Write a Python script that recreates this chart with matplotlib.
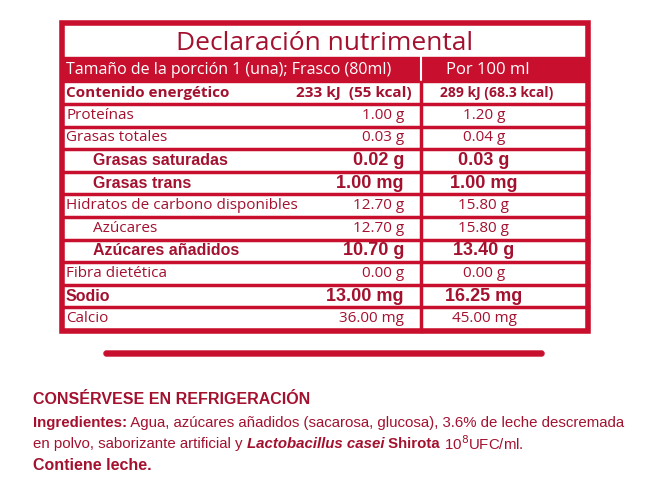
import matplotlib.pyplot as plt
from matplotlib.patches import Rectangle, FancyBboxPatch

RED = '#c8102e'
DARK = '#a3112f'

# Rows of the table: label, per portion, per 100 ml, indent, bold
labels = ['Proteínas', 'Grasas totales', 'Grasas saturadas', 'Grasas trans',
          'Hidratos de carbono disponibles', 'Azúcares', 'Azúcares añadidos',
          'Fibra dietética', 'Sodio', 'Calcio']
portion = ['1.00 g', '0.03 g', '0.02 g', '1.00 mg', '12.70 g', '12.70 g',
           '10.70 g', '0.00 g', '13.00 mg', '36.00 mg']
per100 = ['1.20 g', '0.04 g', '0.03 g', '1.00 mg', '15.80 g', '15.80 g',
          '13.40 g', '0.00 g', '16.25 mg', '45.00 mg']
indent = [0, 0, 1, 1, 0, 1, 1, 0, 0, 0]
bold = [0, 0, 1, 1, 0, 0, 1, 0, 1, 0]

fig = plt.figure(figsize=(6.5, 4.97), dpi=100)
ax = fig.add_axes([0, 0, 1, 1])
ax.set_xlim(0, 650)
ax.set_ylim(497, 0)
ax.axis('off')

x0, x1, xmid = 62, 588, 421
top, bot = 23, 331

# outer frame
ax.add_patch(Rectangle((x0, top), x1 - x0, bot - top, fill=False, ec=RED, lw=4))
ax.text((x0 + x1) / 2, 43, 'Declaración nutrimental', ha='center', va='center',
        fontsize=19, color=DARK, family='Open Sans')

# header row (red band)
ax.add_patch(Rectangle((x0, 57), x1 - x0, 25, color=RED))
ax.plot([xmid, xmid], [57, 82], color='white', lw=1.5)
ax.text(66, 70, 'Tamaño de la porción 1 (una); Frasco (80ml)', va='center',
        fontsize=11.5, color='white', family='Open Sans')
ax.text(488, 70, 'Por 100 ml', ha='center', va='center', fontsize=12,
        color='white', family='Open Sans')

# energy row
ax.text(66, 93, 'Contenido energético', va='center', fontsize=11,
        color=DARK, family='Open Sans', weight='bold')
ax.text(412, 93, '233 kJ  (55 kcal)', ha='right', va='center', fontsize=11,
        color=DARK, family='Open Sans', weight='bold')
ax.text(497, 93, '289 kJ (68.3 kcal)', ha='center', va='center', fontsize=10,
        color=DARK, family='Open Sans', weight='bold')

row_top, row_h = 104, 22.6
ax.plot([x0, x1], [row_top, row_top], color=RED, lw=2.5)
for i, lab in enumerate(labels):
    yc = row_top + row_h * (i + 0.5)
    if bold[i]:
        kw = dict(family='Liberation Sans', weight='bold', fontsize=11.5)
        vsize = 13
    else:
        kw = dict(family='Open Sans', fontsize=11)
        vsize = 11
    ax.text(66 + 27 * indent[i], yc, lab, va='center', color=DARK, **kw)
    kw['fontsize'] = vsize
    ax.text(404, yc, portion[i], ha='right', va='center', color=DARK, **kw)
    ax.text(484, yc, per100[i], ha='center', va='center', color=DARK, **kw)
    if i < len(labels) - 1:
        yl = row_top + row_h * (i + 1)
        ax.plot([x0, x1], [yl, yl], color=RED, lw=2.5)
ax.plot([xmid, xmid], [82, bot], color=RED, lw=2.5)

# rounded bar
ax.add_patch(FancyBboxPatch((104, 351), 440, 5, boxstyle='round,pad=0,rounding_size=2.5',
                            color=RED))

# footer text, pieces chained left to right
fig.canvas.draw()
renderer = fig.canvas.get_renderer()


def line(y, pieces, size=10.8):
    x = 33
    for s, w, st in pieces:
        t = ax.text(x, y, s, va='center', fontsize=size, color=DARK,
                    family='Liberation Sans', weight=w, style=st)
        bb = t.get_window_extent(renderer)
        x += bb.width
    return x


line(400, [('CONSÉRVESE EN REFRIGERACIÓN', 'bold', 'normal')], 11.5)
line(423, [('Ingredientes:', 'bold', 'normal'),
           (' Agua, azúcares añadidos (sacarosa, glucosa), 3.6% de leche descremada',
            'normal', 'normal')])
line(444, [('en polvo, saborizante artificial y ', 'normal', 'normal'),
           ('Lactobacillus casei', 'bold', 'italic'),
           (' Shirota', 'bold', 'normal'),
           (' 10$^8$UFC/ml.', 'normal', 'normal')])
line(466, [('Contiene leche.', 'bold', 'normal')], 11.5)

fig.savefig('out.png', dpi=100, facecolor='white')
